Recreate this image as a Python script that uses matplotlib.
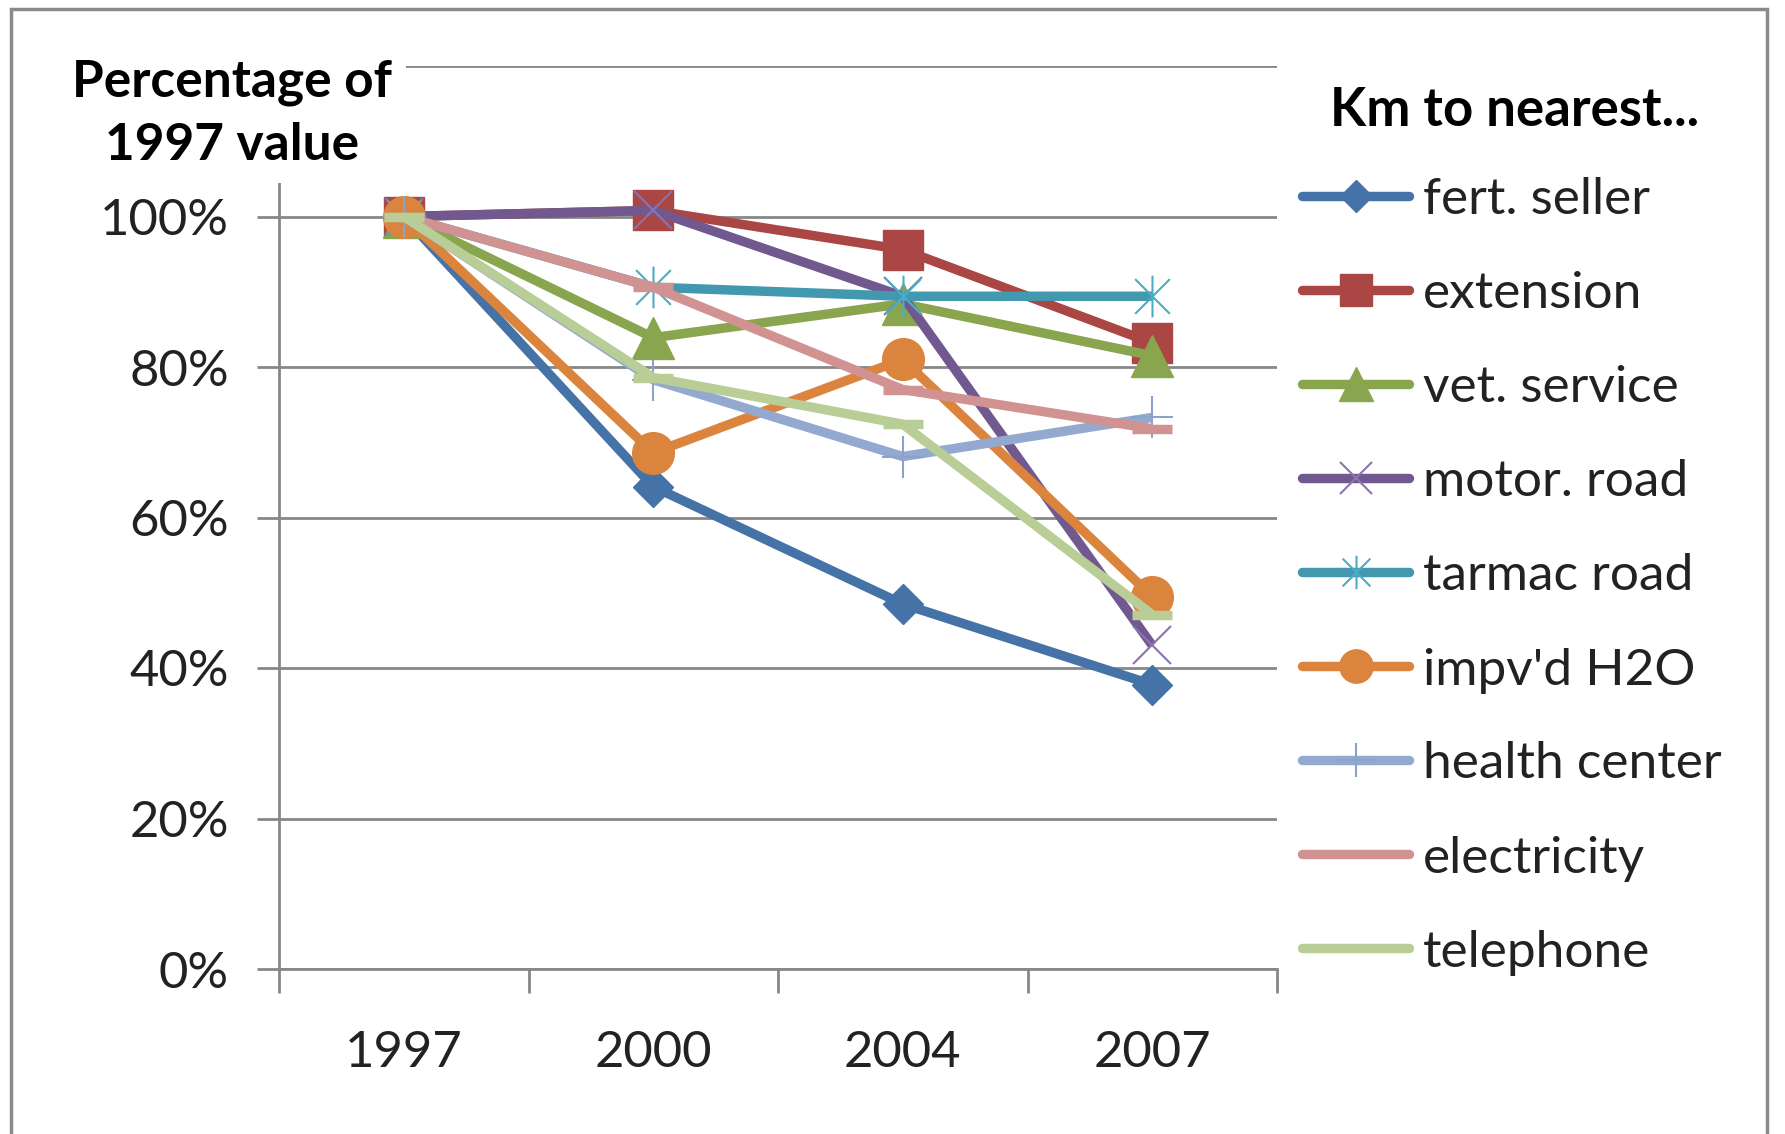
import matplotlib
matplotlib.use("Agg")
import matplotlib.pyplot as plt
from matplotlib.lines import Line2D
from matplotlib.path import Path
from matplotlib.patches import Rectangle
from matplotlib.ticker import FuncFormatter, FixedLocator

years = ["1997", "2000", "2004", "2007"]
series_names = ["fert. seller", "extension", "vet. service", "motor. road", "tarmac road",
                "impv'd H2O", "health center", "electricity", "telephone"]
fert_seller = [1.00, 0.641, 0.485, 0.378]
extension = [1.00, 1.008, 0.956, 0.832]
vet_service = [1.00, 0.839, 0.884, 0.815]
motor_road = [1.00, 1.008, 0.894, 0.430]
tarmac_road = [1.00, 0.906, 0.894, 0.894]
impvd_h2o = [1.00, 0.686, 0.810, 0.495]
health_center = [1.00, 0.783, 0.681, 0.733]
electricity = [1.00, 0.906, 0.770, 0.718]
telephone = [1.00, 0.786, 0.724, 0.471]
values = [fert_seller, extension, vet_service, motor_road, tarmac_road,
          impvd_h2o, health_center, electricity, telephone]
y_ticks = [0, 0.2, 0.4, 0.6, 0.8, 1.0, 1.2]

plt.rcParams['font.family'] = ['Lato', 'DejaVu Sans']

# asterisk marker (x plus vertical line)
ast = Path([(-1, -1), (1, 1), (-1, 1), (1, -1), (0, -1.2), (0, 1.2)],
           [Path.MOVETO, Path.LINETO, Path.MOVETO, Path.LINETO, Path.MOVETO, Path.LINETO])

styles = [
    dict(color="#4572A7", marker="D", ms=20, mfc="#4572A7", mec="#4572A7", mew=1),
    dict(color="#AA4643", marker="s", ms=29, mfc="#AA4643", mec="#AA4643", mew=1),
    dict(color="#89A54E", marker="^", ms=30, mfc="#89A54E", mec="#89A54E", mew=1),
    dict(color="#71588F", marker="x", ms=28, mfc="none", mec="#8C73AE", mew=1.5),
    dict(color="#4198AF", marker=ast, ms=30, mfc="none", mec="#4BACC6", mew=1.5),
    dict(color="#DB843D", marker="o", ms=30, mfc="#DB843D", mec="#DB843D", mew=1),
    dict(color="#93A9CF", marker="+", ms=30, mfc="none", mec="#8BA3CC", mew=1.5),
    dict(color="#D19392", marker="_", ms=29, mfc="#D19392", mec="#D19392", mew=6.8),
    dict(color="#B9CD96", marker="_", ms=29, mfc="#B9CD96", mec="#B9CD96", mew=6.8),
]

W, H = 1785, 1134
fig = plt.figure(figsize=(W / 100, H / 100), dpi=100)
fig.patch.set_facecolor("white")

ax = fig.add_axes([279 / W, 165 / H, (1277 - 279) / W, (969 - 66) / H])
x = list(range(len(years)))

for name, vals, st in zip(series_names, values, styles):
    ax.plot(x, vals, color=st["color"], lw=6.8, marker=st["marker"], ms=st["ms"],
            mfc=st["mfc"], mec=st["mec"], mew=st["mew"], solid_joinstyle="round",
            solid_capstyle="butt", clip_on=False, label=name)

ax.set_xlim(-0.5, len(years) - 0.5)
ax.set_ylim(0, 1.2)
ax.set_yticks(y_ticks)
ax.yaxis.set_major_formatter(FuncFormatter(lambda v, p: "" if v > 1.05 else f"{v*100:.0f}%"))
ax.grid(axis="y", color="#878787", lw=2)
ax.set_axisbelow(True)
ax.set_xticks(x)
ax.set_xticklabels(years)
ax.xaxis.set_minor_locator(FixedLocator([i - 0.5 for i in range(len(years) + 1)]))
ax.tick_params(axis="x", which="major", length=0, pad=44, labelsize=36.5, labelcolor="#222222")
ax.tick_params(axis="x", which="minor", length=17, width=2, color="#878787")
ax.tick_params(axis="y", length=16, width=2, color="#878787", pad=20, labelsize=36.5,
               labelcolor="#222222")
for s in ["top", "right"]:
    ax.spines[s].set_visible(False)
for s in ["left", "bottom"]:
    ax.spines[s].set_color("#878787")
    ax.spines[s].set_linewidth(2)

# y axis title
fig.text(232 / W, 1 - 114 / H, "Percentage of\n1997 value", fontsize=37, fontweight="bold",
         ha="center", va="center", multialignment="center", linespacing=1.42, color="black",
         bbox=dict(facecolor="white", edgecolor="none", pad=10))

# legend (manual)
fig.text(1515 / W, 1 - 110 / H, "Km to nearest...", fontsize=38, fontweight="bold",
         ha="center", va="center", color="black")
y0, dy = 196, 94.0
for i, (name, st) in enumerate(zip(series_names, styles)):
    yy = 1 - (y0 + i * dy) / H
    fig.add_artist(Line2D([1302 / W, 1409 / W], [yy, yy], color=st["color"], lw=6.8,
                          solid_capstyle="round", transform=fig.transFigure))
    if st["marker"] != "_":
        fig.add_artist(Line2D([1356 / W], [yy], marker=st["marker"], ms=st["ms"] * 0.8,
                              mfc=st["mfc"], mec=st["mec"], mew=st["mew"], lw=0,
                              transform=fig.transFigure))
    fig.text(1423 / W, yy, name, fontsize=37, ha="left", va="center_baseline", color="#222222")

# outer border
fig.add_artist(Rectangle((11 / W, -0.05), (1767 - 11) / W, 1.05 - 9 / H, fill=False,
                         edgecolor="#8a8a8a", lw=2.5, transform=fig.transFigure))

fig.savefig("out.png", dpi=100)
